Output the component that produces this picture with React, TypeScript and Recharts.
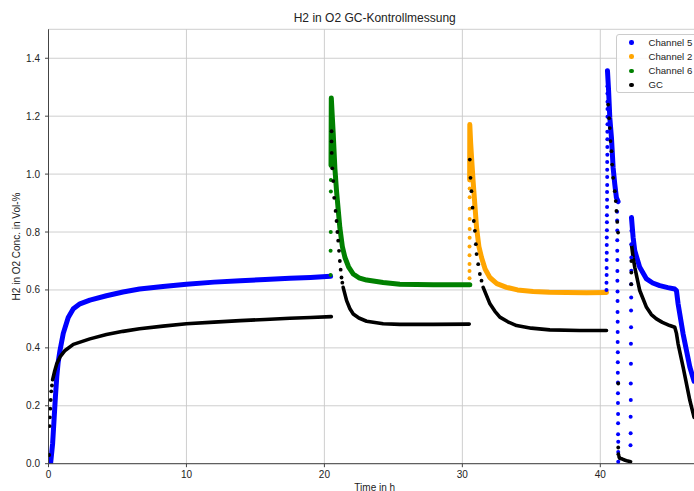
import React from 'react';
import {
  ComposedChart,
  Line,
  Scatter,
  XAxis,
  YAxis,
  CartesianGrid,
  Legend,
  Label,
} from 'recharts';

type Pt = [number, number]; // [time in h, H2 in O2 in Vol-%]

// ---- Channel 5 (blue) ----
const ch5Run1: Pt[] = [
  [0.15, 0], [0.3, 0.07], [0.4, 0.15], [0.5, 0.23], [0.6, 0.3], [0.7, 0.35],
  [0.83, 0.39], [1.07, 0.45], [1.43, 0.505], [1.8, 0.535], [2.28, 0.552],
  [3.0, 0.565], [4.2, 0.58], [5.4, 0.593], [6.6, 0.603], [8.3, 0.612],
  [10.0, 0.62], [12.0, 0.627], [13.9, 0.632], [15.7, 0.636], [17.5, 0.64],
  [19.0, 0.643], [20.45, 0.647],
];
const ch5StepUp: Pt[] = [
  [40.45, 0.6], [40.45, 0.625], [40.46, 0.652], [40.46, 0.676], [40.46, 0.703],
  [40.47, 0.728], [40.47, 0.755], [40.47, 0.781], [40.48, 0.806], [40.48, 0.834],
  [40.48, 0.858], [40.49, 0.886], [40.49, 0.911], [40.49, 0.938], [40.5, 0.962],
  [40.5, 0.99], [40.5, 1.015], [40.5, 1.042], [40.51, 1.067], [40.51, 1.094],
  [40.51, 1.12], [40.51, 1.146], [40.52, 1.172], [40.52, 1.198], [40.52, 1.225],
  [40.52, 1.25], [40.52, 1.278], [40.52, 1.303],
];
const ch5Run2: Pt[] = [
  [40.52, 1.357], [40.6, 1.29], [40.69, 1.194], [40.81, 1.125], [40.93, 1.022],
  [41.05, 0.965], [41.17, 0.918], [41.29, 0.905],
];
const ch5Drop: Pt[] = [
  [41.22, 0.87], [41.22, 0.84], [41.23, 0.805], [41.23, 0.772], [41.23, 0.735],
  [41.24, 0.703], [41.24, 0.665], [41.24, 0.632], [41.25, 0.595], [41.25, 0.562],
  [41.25, 0.524], [41.26, 0.49], [41.26, 0.455], [41.26, 0.42], [41.27, 0.385],
  [41.27, 0.35], [41.27, 0.314], [41.28, 0.28], [41.28, 0.243], [41.28, 0.21],
  [41.29, 0.172], [41.29, 0.14], [41.29, 0.102], [41.3, 0.076], [41.3, 0.04],
  [41.3, 0.007],
];
const ch5StepUp2: Pt[] = [
  [42.19, 0.064], [42.2, 0.105], [42.2, 0.162], [42.21, 0.22], [42.21, 0.277],
  [42.22, 0.345], [42.22, 0.414], [42.23, 0.471], [42.23, 0.529], [42.24, 0.574],
  [42.24, 0.62], [42.25, 0.666], [42.25, 0.712], [42.25, 0.758], [42.26, 0.804],
];
const ch5Run3: Pt[] = [
  [42.26, 0.85], [42.38, 0.781], [42.5, 0.735], [42.86, 0.678], [43.35, 0.638],
  [43.8, 0.624], [44.31, 0.615], [44.9, 0.608], [45.4, 0.603], [45.52, 0.598],
  [45.64, 0.552], [46.0, 0.449], [46.49, 0.334], [46.8, 0.285],
];

// ---- Channel 2 (orange) ----
const ch2StepUp: Pt[] = [
  [30.52, 0.64], [30.52, 0.665], [30.52, 0.69], [30.52, 0.72], [30.52, 0.75],
  [30.53, 0.78], [30.53, 0.81], [30.53, 0.845], [30.53, 0.88], [30.53, 0.92],
  [30.53, 0.95],
];
const ch2Run: Pt[] = [
  [30.53, 0.98], [30.54, 1.171], [30.6, 1.11], [30.67, 1.056], [30.78, 0.976],
  [31.03, 0.815], [31.2, 0.75], [31.39, 0.712], [31.65, 0.672], [31.99, 0.643],
  [32.5, 0.622], [33.2, 0.609], [34.0, 0.6], [35.13, 0.595], [36.3, 0.592],
  [37.55, 0.591], [39.0, 0.59], [40.45, 0.591],
];

// ---- Channel 6 (green) ----
const ch6StepUp: Pt[] = [
  [20.45, 0.652], [20.45, 0.735], [20.46, 0.8], [20.47, 0.94], [20.47, 0.98],
];
const ch6Run: Pt[] = [
  [20.48, 1.03], [20.5, 1.263], [20.57, 1.2], [20.64, 1.14], [20.76, 1.02],
  [20.88, 0.941], [21.12, 0.815], [21.3, 0.75], [21.49, 0.712], [21.75, 0.68],
  [22.09, 0.655], [22.5, 0.642], [23.06, 0.634], [24.26, 0.626], [25.47, 0.62],
  [27.9, 0.618], [30.54, 0.618],
];

// ---- GC reference (black) ----
const gcStart: Pt[] = [
  [0.05, 0.03], [0.08, 0.13], [0.1, 0.16], [0.13, 0.19], [0.16, 0.22],
  [0.2, 0.25], [0.25, 0.27],
];
const gcRun1: Pt[] = [
  [0.3, 0.29], [0.45, 0.32], [0.6, 0.345], [0.85, 0.37], [1.2, 0.391],
  [1.8, 0.412], [3.0, 0.431], [4.2, 0.446], [5.4, 0.457], [6.6, 0.466],
  [8.3, 0.475], [10.0, 0.483], [12.0, 0.489], [13.9, 0.494], [15.7, 0.498],
  [17.5, 0.502], [19.0, 0.505], [20.5, 0.508],
];
const gcFall2: Pt[] = [
  [20.52, 1.148], [20.52, 1.113], [20.53, 1.073], [20.57, 1.02], [20.64, 0.976],
  [20.71, 0.918], [20.81, 0.873], [20.88, 0.838], [20.94, 0.8], [21.0, 0.77],
  [21.06, 0.735], [21.12, 0.7], [21.18, 0.67], [21.24, 0.643], [21.3, 0.625],
];
const gcRun2: Pt[] = [
  [21.36, 0.609], [21.61, 0.563], [21.85, 0.535], [22.09, 0.517], [22.5, 0.503],
  [23.06, 0.492], [24.26, 0.483], [25.47, 0.481], [27.88, 0.481], [30.5, 0.482],
];
const gcFall3: Pt[] = [
  [30.54, 1.05], [30.59, 0.987], [30.66, 0.941], [30.74, 0.884], [30.83, 0.838],
  [30.91, 0.804], [30.98, 0.758], [31.03, 0.724], [31.15, 0.689], [31.27, 0.655],
  [31.39, 0.632],
];
const gcRun3: Pt[] = [
  [31.51, 0.609], [32.0, 0.552], [32.35, 0.527], [32.72, 0.506], [33.3, 0.49],
  [33.93, 0.477], [35.0, 0.468], [36.34, 0.462], [38.5, 0.46], [40.45, 0.46],
];
const gcFall4: Pt[] = [
  [40.57, 1.24], [40.64, 1.193], [40.69, 1.159], [40.74, 1.114], [40.81, 1.079],
  [40.86, 1.033], [40.93, 0.987], [41.05, 0.941], [41.12, 0.907], [41.17, 0.873],
  [41.23, 0.835], [41.29, 0.798], [41.3, 0.277], [41.3, 0.056], [41.31, 0.033],
  [41.36, 0.024], [42.24, 0.62], [42.25, 0.66], [42.25, 0.7],
];
const gcRun4: Pt[] = [
  [41.4, 0.019], [41.6, 0.016], [41.8, 0.012], [42.0, 0.009], [42.2, 0.007],
];
const gcRun5: Pt[] = [
  [42.26, 0.757], [42.38, 0.712], [42.5, 0.678], [42.86, 0.598], [43.35, 0.54],
  [43.7, 0.515], [44.07, 0.5], [44.5, 0.488], [45.04, 0.477], [45.4, 0.471],
  [45.52, 0.45], [45.64, 0.414], [46.0, 0.334], [46.49, 0.219], [46.8, 0.16],
];

const xTicks = [0, 10, 20, 30, 40];
const yTicks = [0, 0.2, 0.4, 0.6, 0.8, 1.0, 1.2, 1.4];
const xDomain: [number, number] = [0, 47.3];
const yDomain: [number, number] = [0, 1.5];

const chartTitle = 'H2 in O2 GC-Kontrollmessung';
const xTitle = 'Time in h';
const yTitle = 'H2 in O2 Conc. in Vol-%';

type Series = {
  name: string;
  color: string;
  width: number;
  dotR: number;
  runs: Pt[][];
  dots: Pt[][];
};

const series: Series[] = [
  { name: 'Channel 5', color: '#0000ff', width: 5, dotR: 2, runs: [ch5Run1, ch5Run2, ch5Run3], dots: [ch5StepUp, ch5Drop, ch5StepUp2] },
  { name: 'Channel 2', color: '#ffa500', width: 5, dotR: 2, runs: [ch2Run], dots: [ch2StepUp] },
  { name: 'Channel 6', color: '#008000', width: 5, dotR: 2, runs: [ch6Run], dots: [ch6StepUp] },
  { name: 'GC', color: '#000000', width: 3.6, dotR: 1.9, runs: [gcRun1, gcRun2, gcRun3, gcRun4, gcRun5], dots: [gcStart, gcFall2, gcFall3, gcFall4] },
];

const toRows = (pts: Pt[]) => pts.map(([h, v]) => ({ h, v }));

const FONT = '"Liberation Sans", Arial, Helvetica, sans-serif';
const TEXT = '#222222';
const SPINE = '#444444';

const W = 720;
const H = 491;

const makeDot = (color: string, r: number) => (props: any) => {
  const { cx, cy } = props;
  if (cx == null || cy == null) return <g />;
  return <circle cx={cx} cy={cy} r={r} fill={color} />;
};

const LegendBox = () => (
  <div
    style={{
      border: '1px solid #cccccc',
      borderRadius: 3,
      background: 'rgba(255,255,255,0.85)',
      width: 86,
      fontFamily: FONT,
      fontSize: 9.6,
      color: TEXT,
    }}
  >
    {series.map((s) => (
      <div key={s.name} style={{ display: 'flex', alignItems: 'center', height: 14.2 }}>
        <span
          style={{
            display: 'inline-block',
            width: 4.4,
            height: 4.4,
            borderRadius: '50%',
            background: s.color,
            marginLeft: 12,
            marginRight: 14.8,
          }}
        />
        <span style={{ whiteSpace: 'nowrap' }}>{s.name}</span>
      </div>
    ))}
  </div>
);

export default function App() {
  return (
    <div
      style={{
        position: 'fixed',
        left: 0,
        top: 0,
        width: 694,
        height: 491,
        overflow: 'hidden',
        background: '#ffffff',
      }}
    >
      <div
        style={{
          position: 'absolute',
          left: 48.5,
          width: 652.5,
          top: 11,
          lineHeight: '14px',
          textAlign: 'center',
          fontFamily: FONT,
          fontSize: 12,
          color: TEXT,
        }}
      >
        {chartTitle}
      </div>
      <ComposedChart
        width={W}
        height={H}
        margin={{ top: 29.3, right: 19, bottom: 0, left: 0 }}
        style={{ position: 'absolute', left: 0, top: 0 }}
      >
        <CartesianGrid stroke="#c8c8c8" strokeWidth={0.9} />
        <XAxis
          dataKey="h"
          type="number"
          domain={xDomain}
          ticks={xTicks}
          allowDataOverflow
          height={27.3}
          tickSize={3.5}
          tickMargin={4}
          axisLine={{ stroke: SPINE, strokeWidth: 1 }}
          tickLine={{ stroke: SPINE }}
          tick={{ fontSize: 10, fill: TEXT, fontFamily: FONT }}
        >
          <Label
            content={(p: any) => {
              const vb = p.viewBox || {};
              return (
                <text
                  x={vb.x + vb.width / 2}
                  y={487}
                  textAnchor="middle"
                  dominantBaseline="central"
                  fontSize={10}
                  fill={TEXT}
                  fontFamily={FONT}
                >
                  {xTitle}
                </text>
              );
            }}
          />
        </XAxis>
        <XAxis
          xAxisId="top"
          orientation="top"
          type="number"
          domain={xDomain}
          allowDataOverflow
          height={0}
          tick={false}
          tickLine={false}
          axisLine={{ stroke: SPINE, strokeWidth: 1 }}
        />
        <YAxis
          dataKey="v"
          type="number"
          domain={yDomain}
          ticks={yTicks}
          allowDataOverflow
          width={48.5}
          tickSize={3.5}
          tickMargin={5}
          tickFormatter={(v: number) => v.toFixed(1)}
          axisLine={{ stroke: SPINE, strokeWidth: 1 }}
          tickLine={{ stroke: SPINE }}
          tick={{ fontSize: 10, fill: TEXT, fontFamily: FONT }}
        >
          <Label
            content={(p: any) => {
              const vb = p.viewBox || {};
              const cy = vb.y + vb.height / 2;
              return (
                <text
                  x={16}
                  y={cy}
                  transform={`rotate(-90, 16, ${cy})`}
                  textAnchor="middle"
                  dominantBaseline="central"
                  fontSize={10}
                  fill={TEXT}
                  fontFamily={FONT}
                >
                  {yTitle}
                </text>
              );
            }}
          />
        </YAxis>
        <YAxis
          yAxisId="right"
          orientation="right"
          type="number"
          domain={yDomain}
          width={0}
          tick={false}
          tickLine={false}
          axisLine={{ stroke: SPINE, strokeWidth: 1 }}
        />
        {series.flatMap((s, si) => [
          ...s.runs.map((run, ri) => (
            <Line
              key={`line-${si}-${ri}`}
              data={toRows(run)}
              dataKey="v"
              type="linear"
              stroke={s.color}
              strokeWidth={s.width}
              strokeLinecap="round"
              strokeLinejoin="round"
              dot={false}
              activeDot={false}
              legendType="none"
              isAnimationActive={false}
            />
          )),
          ...s.dots.map((pts, di) => (
            <Scatter
              key={`dots-${si}-${di}`}
              data={toRows(pts)}
              dataKey="v"
              fill={s.color}
              shape={makeDot(s.color, s.dotR)}
              legendType="none"
              isAnimationActive={false}
            />
          )),
        ])}
        <Legend
          layout="vertical"
          align="center"
          verticalAlign="middle"
          wrapperStyle={{ position: 'absolute', left: 616.3, top: 34.3, width: 88, height: 60 }}
          content={() => <LegendBox />}
        />
      </ComposedChart>
    </div>
  );
}
